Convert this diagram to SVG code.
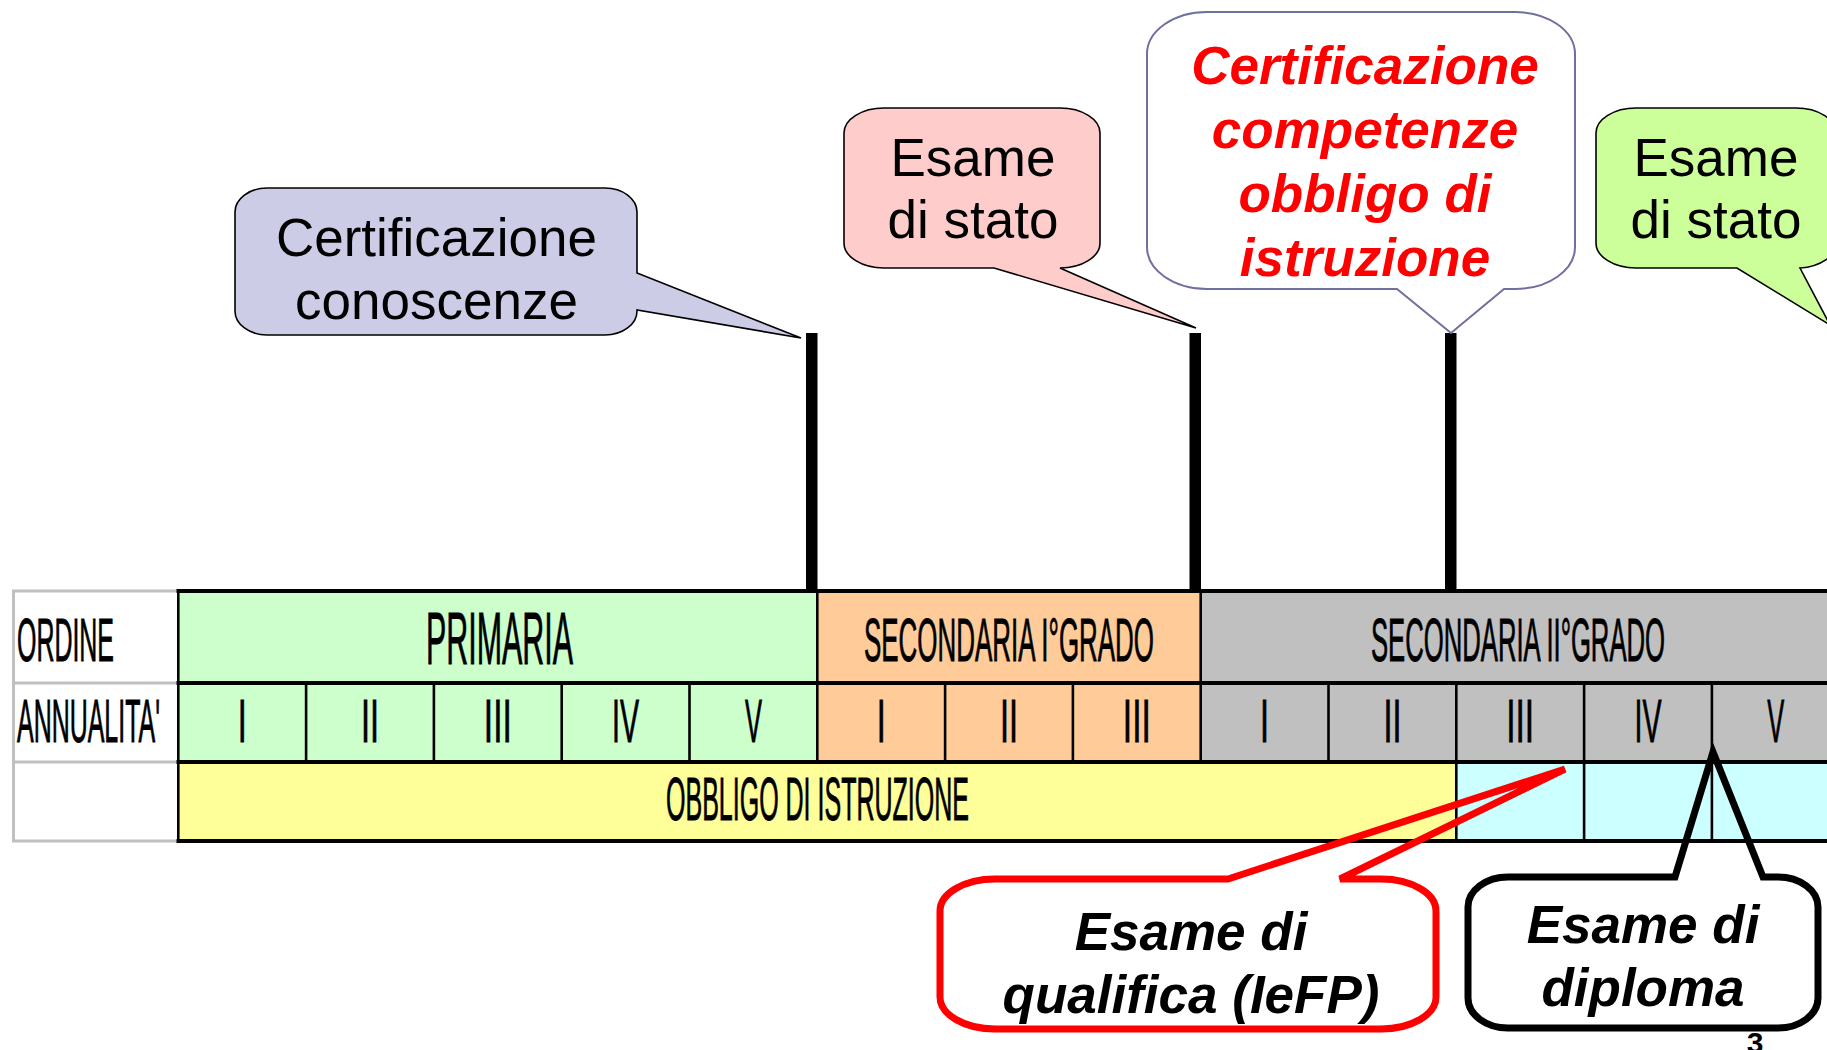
<svg xmlns="http://www.w3.org/2000/svg" width="1827" height="1050" viewBox="0 0 1827 1050">
<style>
.tt{font-family:"Liberation Sans",Arial,sans-serif;font-size:61px;fill:#000;stroke:#000;stroke-width:0.9px}
.rn{text-anchor:middle}
.cl{font-family:"Liberation Sans",Arial,sans-serif;font-size:53px;fill:#000;text-anchor:middle}
.bi{font-weight:bold;font-style:italic}
.gl{stroke:#C0C0C0;stroke-width:3;fill:none}
.hl{stroke:#000;stroke-width:4;fill:none}
.vl{stroke:#000;stroke-width:2.6;fill:none}
.bar{fill:#000}
</style>
<rect width="1827" height="1050" fill="#fff"/>
<g id="table">
  <g id="row-ordine">
    <rect x="178.3" y="591" width="639" height="92" fill="#CCFFCC"/>
    <rect x="817.3" y="591" width="383.4" height="92" fill="#FFCC99"/>
    <rect x="1200.7" y="591" width="640" height="92" fill="#C0C0C0"/>
  </g>
  <g id="row-annualita">
    <rect x="178.3" y="683" width="639" height="79" fill="#CCFFCC"/>
    <rect x="817.3" y="683" width="383.4" height="79" fill="#FFCC99"/>
    <rect x="1200.7" y="683" width="640" height="79" fill="#C0C0C0"/>
  </g>
  <g id="row-obbligo">
    <rect x="178.3" y="762" width="1278" height="79" fill="#FFFF99"/>
    <rect x="1456.3" y="762" width="384" height="79" fill="#CCFFFF"/>
  </g>
  <g id="grid">
    <path class="gl" d="M12,591H178M12,683H178M12,762H178M12,841H178M13.5,589.5V842.5"/>
    <path class="hl" d="M176.5,591H1827M176.5,683H1827M176.5,762H1827M176.5,841H1827"/>
    <path class="vl" stroke-width="3.4" d="M178.3,589V843"/>
    <path class="vl" d="M817.3,591V762M1200.7,591V762"/>
    <path class="vl" d="M306.1,683V762M433.9,683V762M561.7,683V762M689.5,683V762M945.1,683V762M1072.9,683V762M1328.5,683V762M1456.3,683V762M1584.1,683V762M1711.9,683V762"/>
    <path class="vl" d="M1456.3,762V841M1584.1,762V841M1711.9,762V841"/>
  </g>
  <g id="labels">
    <text class="tt" x="17" y="661" font-size="60" textLength="97" lengthAdjust="spacingAndGlyphs">ORDINE</text>
    <text class="tt" x="17" y="742" textLength="143" lengthAdjust="spacingAndGlyphs">ANNUALITA'</text>
    <text class="tt" x="426" y="664" style="font-size:74px" textLength="147" lengthAdjust="spacingAndGlyphs">PRIMARIA</text>
    <text class="tt" x="864" y="661" textLength="290" lengthAdjust="spacingAndGlyphs">SECONDARIA I°GRADO</text>
    <text class="tt" x="1371" y="661" textLength="294" lengthAdjust="spacingAndGlyphs">SECONDARIA II°GRADO</text>
    <text class="tt" x="666" y="820" textLength="303" lengthAdjust="spacingAndGlyphs">OBBLIGO DI ISTRUZIONE</text>
  </g>
  <g id="years">
    <text class="tt rn" x="242.2" y="742" textLength="9" lengthAdjust="spacingAndGlyphs">I</text>
    <text class="tt rn" x="370" y="742" textLength="18" lengthAdjust="spacingAndGlyphs">II</text>
    <text class="tt rn" x="497.8" y="742" textLength="28" lengthAdjust="spacingAndGlyphs">III</text>
    <text class="tt rn" x="625.6" y="742" textLength="27" lengthAdjust="spacingAndGlyphs">IV</text>
    <text class="tt rn" x="753.4" y="742" textLength="17" lengthAdjust="spacingAndGlyphs">V</text>
    <text class="tt rn" x="881.2" y="742" textLength="9" lengthAdjust="spacingAndGlyphs">I</text>
    <text class="tt rn" x="1009" y="742" textLength="18" lengthAdjust="spacingAndGlyphs">II</text>
    <text class="tt rn" x="1136.8" y="742" textLength="28" lengthAdjust="spacingAndGlyphs">III</text>
    <text class="tt rn" x="1264.6" y="742" textLength="9" lengthAdjust="spacingAndGlyphs">I</text>
    <text class="tt rn" x="1392.4" y="742" textLength="18" lengthAdjust="spacingAndGlyphs">II</text>
    <text class="tt rn" x="1520.2" y="742" textLength="28" lengthAdjust="spacingAndGlyphs">III</text>
    <text class="tt rn" x="1648" y="742" textLength="27" lengthAdjust="spacingAndGlyphs">IV</text>
    <text class="tt rn" x="1775.8" y="742" textLength="17" lengthAdjust="spacingAndGlyphs">V</text>
  </g>
</g>
<g id="connectors">
  <rect class="bar" x="806" y="333" width="11.5" height="258"/>
  <rect class="bar" x="1189.5" y="333" width="11.5" height="258"/>
  <rect class="bar" x="1445" y="333" width="11.5" height="258"/>
</g>
<g id="callout-conoscenze">
  <path d="M267,188H605A32,24 0 0 1 637,212V273L801,338L637,310V311A32,24 0 0 1 605,335H267A32,24 0 0 1 235,311V212A32,24 0 0 1 267,188Z" fill="#CCCCE6" stroke="#000" stroke-width="1.6"/>
  <text class="cl" x="436.5" y="256">Certificazione</text>
  <text class="cl" x="436.5" y="319">conoscenze</text>
</g>
<g id="callout-esame-stato-1">
  <path d="M884,108H1060A40,25 0 0 1 1100,133V243A40,25 0 0 1 1060,268L1196,328L994,268H884A40,25 0 0 1 844,243V133A40,25 0 0 1 884,108Z" fill="#FFCCCC" stroke="#000" stroke-width="1.6"/>
  <text class="cl" x="973" y="176">Esame</text>
  <text class="cl" x="973" y="238">di stato</text>
</g>
<g id="callout-competenze">
  <path d="M1207,12H1515A60,42 0 0 1 1575,54V247A60,42 0 0 1 1515,289H1504L1451,333L1397,289H1207A60,42 0 0 1 1147,247V54A60,42 0 0 1 1207,12Z" fill="#fff" stroke="#6F6FA0" stroke-width="2"/>
  <text class="cl bi" x="1365" y="84" style="fill:#FF0000">Certificazione</text>
  <text class="cl bi" x="1365" y="148" style="fill:#FF0000">competenze</text>
  <text class="cl bi" x="1365" y="212" style="fill:#FF0000">obbligo di</text>
  <text class="cl bi" x="1365" y="276" style="fill:#FF0000">istruzione</text>
</g>
<g id="callout-esame-stato-2">
  <path d="M1636,108H1796A40,25 0 0 1 1836,133V243A40,25 0 0 1 1800,268L1830,325L1737,268H1636A40,25 0 0 1 1596,243V133A40,25 0 0 1 1636,108Z" fill="#CCFF99" stroke="#000" stroke-width="1.6"/>
  <text class="cl" x="1716" y="176">Esame</text>
  <text class="cl" x="1716" y="238">di stato</text>
</g>
<g id="callout-qualifica">
  <path d="M995,879H1228L1565,769L1340,879H1381A55,32 0 0 1 1436,911V997A55,32 0 0 1 1381,1029H995A55,32 0 0 1 940,997V911A55,32 0 0 1 995,879Z" fill="none" stroke="#FF0000" stroke-width="7"/>
  <text class="cl bi" x="1191" y="950">Esame di</text>
  <text class="cl bi" x="1191" y="1013">qualifica (IeFP)</text>
</g>
<g id="callout-diploma">
  <path d="M1508,877H1675L1713,752L1763,877H1778A40,30 0 0 1 1818,907V998A40,30 0 0 1 1778,1028H1508A40,30 0 0 1 1468,998V907A40,30 0 0 1 1508,877Z" fill="none" stroke="#000" stroke-width="7"/>
  <text class="cl bi" x="1643" y="943">Esame di</text>
  <text class="cl bi" x="1643" y="1006">diploma</text>
</g>
<text x="1755" y="1053" font-family="Liberation Sans,Arial,sans-serif" font-size="30" font-weight="bold" text-anchor="middle">3</text>
</svg>
